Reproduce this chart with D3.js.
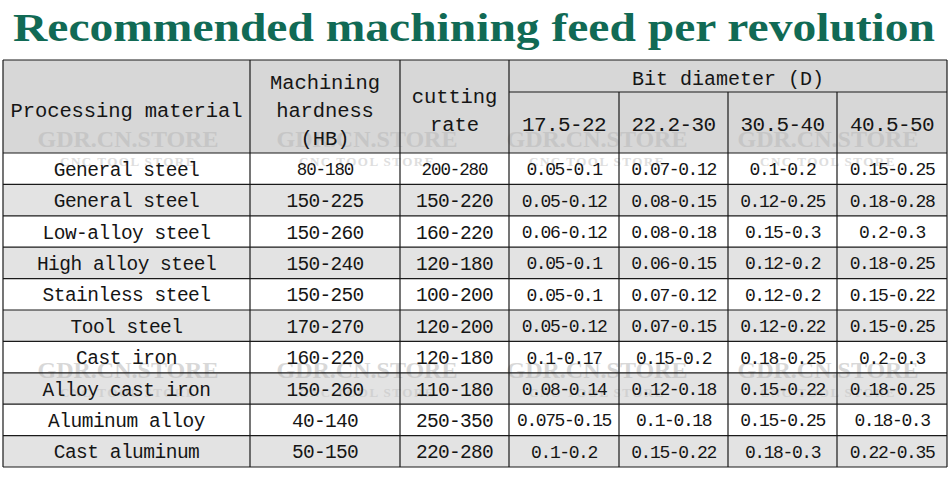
<!DOCTYPE html>
<html>
<head>
<meta charset="utf-8">
<script src="https://cdn.jsdelivr.net/npm/d3@7"></script>
<style>
  html, body { margin: 0; padding: 0; background: #fff; }
  svg { display: block; }
</style>
</head>
<body>
<svg id="chart" width="950" height="486"></svg>
<script>
// ---------- data ----------
const titleText = "Recommended machining feed per revolution";
const headMaterial = ["Processing material"];
const headHardness = ["Machining", "hardness", "(HB)"];
const headRate = ["cutting", "rate"];
const headDiameter = "Bit diameter (D)";
const diameters = ["17.5-22", "22.2-30", "30.5-40", "40.5-50"];
const materials = ["General steel", "General steel", "Low-alloy steel", "High alloy steel",
  "Stainless steel", "Tool steel", "Cast iron", "Alloy cast iron", "Aluminum alloy", "Cast aluminum"];
const hardness = ["80-180", "150-225", "150-260", "150-240", "150-250", "170-270",
  "160-220", "150-260", "40-140", "50-150"];
const cuttingRate = ["200-280", "150-220", "160-220", "120-180", "100-200", "120-200",
  "120-180", "110-180", "250-350", "220-280"];
const feedD1 = ["0.05-0.1", "0.05-0.12", "0.06-0.12", "0.05-0.1", "0.05-0.1", "0.05-0.12",
  "0.1-0.17", "0.08-0.14", "0.075-0.15", "0.1-0.2"];
const feedD2 = ["0.07-0.12", "0.08-0.15", "0.08-0.18", "0.06-0.15", "0.07-0.12", "0.07-0.15",
  "0.15-0.2", "0.12-0.18", "0.1-0.18", "0.15-0.22"];
const feedD3 = ["0.1-0.2", "0.12-0.25", "0.15-0.3", "0.12-0.2", "0.12-0.2", "0.12-0.22",
  "0.18-0.25", "0.15-0.22", "0.15-0.25", "0.18-0.3"];
const feedD4 = ["0.15-0.25", "0.18-0.28", "0.2-0.3", "0.18-0.25", "0.15-0.22", "0.15-0.25",
  "0.2-0.3", "0.18-0.25", "0.18-0.3", "0.22-0.35"];
const watermarkBig = "GDR.CN.STORE";
const watermarkSmall = "CNC TOOL STORE";

// ---------- layout ----------
const svg = d3.select("#chart");
const W = 950;
const colEdges = [3, 250, 400, 509, 619, 728, 837, 947];
const tableTop = 60, subHeadTop = 92, bodyTop = 153, bodyBottom = 467;
const mono = "'Liberation Mono', 'DejaVu Sans Mono', monospace";
const serif = "'Liberation Serif', 'Times New Roman', serif";
const ink = "#151515";

const columns = [materials, hardness, cuttingRate, feedD1, feedD2, feedD3, feedD4];
const colIdx = d3.range(columns.length);
const xc = i => (colEdges[i] + colEdges[i + 1]) / 2;

const y = d3.scaleBand().domain(d3.range(materials.length)).range([bodyTop, bodyBottom]).padding(0);

// ---------- title ----------
svg.append("text")
  .attr("x", W / 2 - 1).attr("y", 41)
  .attr("text-anchor", "middle")
  .attr("textLength", 922).attr("lengthAdjust", "spacingAndGlyphs")
  .style("font-family", serif).style("font-weight", "bold")
  .style("font-size", "41px").style("fill", "#116a55")
  .text(titleText);

// ---------- backgrounds ----------
svg.append("rect").attr("x", colEdges[0]).attr("y", tableTop)
  .attr("width", colEdges[7] - colEdges[0]).attr("height", bodyTop - tableTop)
  .attr("fill", "#d7d7d7");

svg.append("g").selectAll("rect").data(materials).join("rect")
  .attr("x", colEdges[0]).attr("y", (d, i) => y(i))
  .attr("width", colEdges[7] - colEdges[0]).attr("height", y.bandwidth())
  .attr("fill", (d, i) => i % 2 === 1 ? "#e3e3e3" : "#ffffff");

// ---------- watermarks ----------
const wmX = [128, 367, 597, 828];
const wmY = [147, 378];
const wm = svg.append("g").attr("pointer-events", "none");
wmY.forEach(yy => {
  wm.selectAll(null).data(wmX).join("text")
    .attr("x", d => d).attr("y", yy).attr("text-anchor", "middle")
    .style("font-family", serif).style("font-weight", "bold").style("font-size", "24px")
    .style("fill", "#b9b9b9").style("opacity", 0.55)
    .text(watermarkBig);
  wm.selectAll(null).data(wmX).join("text")
    .attr("x", d => d).attr("y", yy + 19).attr("text-anchor", "middle")
    .style("font-family", serif).style("font-weight", "bold").style("font-size", "13px")
    .style("letter-spacing", "1.5px")
    .style("fill", "#c4c4c4").style("opacity", 0.55)
    .text(watermarkSmall);
});

// ---------- grid lines ----------
const grid = svg.append("g").attr("stroke", "#1a1a1a").attr("stroke-width", 1.2).attr("fill", "none");
grid.selectAll(".h").data(d3.range(materials.length + 1)).join("line")
  .attr("x1", colEdges[0]).attr("x2", colEdges[7])
  .attr("y1", i => i < materials.length ? y(i) : bodyBottom)
  .attr("y2", i => i < materials.length ? y(i) : bodyBottom);
grid.append("line").attr("x1", colEdges[0]).attr("x2", colEdges[7]).attr("y1", tableTop).attr("y2", tableTop);
grid.append("line").attr("x1", colEdges[3]).attr("x2", colEdges[7]).attr("y1", subHeadTop).attr("y2", subHeadTop);
grid.selectAll(".v").data(colEdges).join("line")
  .attr("x1", d => d).attr("x2", d => d)
  .attr("y1", (d, i) => (i >= 4 && i <= 6) ? subHeadTop : tableTop)
  .attr("y2", bodyBottom);

// ---------- header text ----------
const hdr = svg.append("g").style("font-family", mono).style("fill", ink);
hdr.append("text").attr("x", xc(0)).attr("y", 110).attr("dy", "0.35em").attr("text-anchor", "middle")
  .style("font-size", "20.5px").style("letter-spacing", "-0.1px").text(headMaterial[0]);
hdr.selectAll(null).data(headHardness).join("text")
  .attr("x", xc(1)).attr("y", (d, i) => 82 + i * 28).attr("dy", "0.35em").attr("text-anchor", "middle")
  .style("font-size", "20.5px").style("letter-spacing", "-0.1px").text(d => d);
hdr.selectAll(null).data(headRate).join("text")
  .attr("x", xc(2)).attr("y", (d, i) => 96 + i * 28).attr("dy", "0.35em").attr("text-anchor", "middle")
  .style("font-size", "20.5px").style("letter-spacing", "-0.1px").text(d => d);
hdr.append("text").attr("x", (colEdges[3] + colEdges[7]) / 2).attr("y", 78).attr("dy", "0.35em")
  .attr("text-anchor", "middle").style("font-size", "20px").style("letter-spacing", "0px").text(headDiameter);
hdr.selectAll(null).data(diameters).join("text")
  .attr("x", (d, i) => xc(i + 3)).attr("y", 124).attr("dy", "0.35em").attr("text-anchor", "middle")
  .style("font-size", "21px").style("letter-spacing", "-0.6px").text(d => d);

// ---------- body text ----------
const body = svg.append("g").style("font-family", mono).style("fill", ink);
colIdx.forEach(c => {
  body.selectAll(null).data(columns[c]).join("text")
    .attr("x", xc(c))
    .attr("y", (d, i) => y(i) + y.bandwidth() / 2)
    .attr("dy", "0.36em")
    .attr("text-anchor", "middle")
    .style("font-size", (d, i) => c === 0 ? "19.5px" : (c <= 2 ? (i === 0 ? "17.5px" : "19.5px") : "18px"))
    .style("letter-spacing", (d, i) => c === 0 ? "-0.5px" : (c <= 2 ? (i === 0 ? "-1.1px" : "-0.7px") : "-1.4px"))
    .text(d => d);
});
</script>
</body>
</html>
